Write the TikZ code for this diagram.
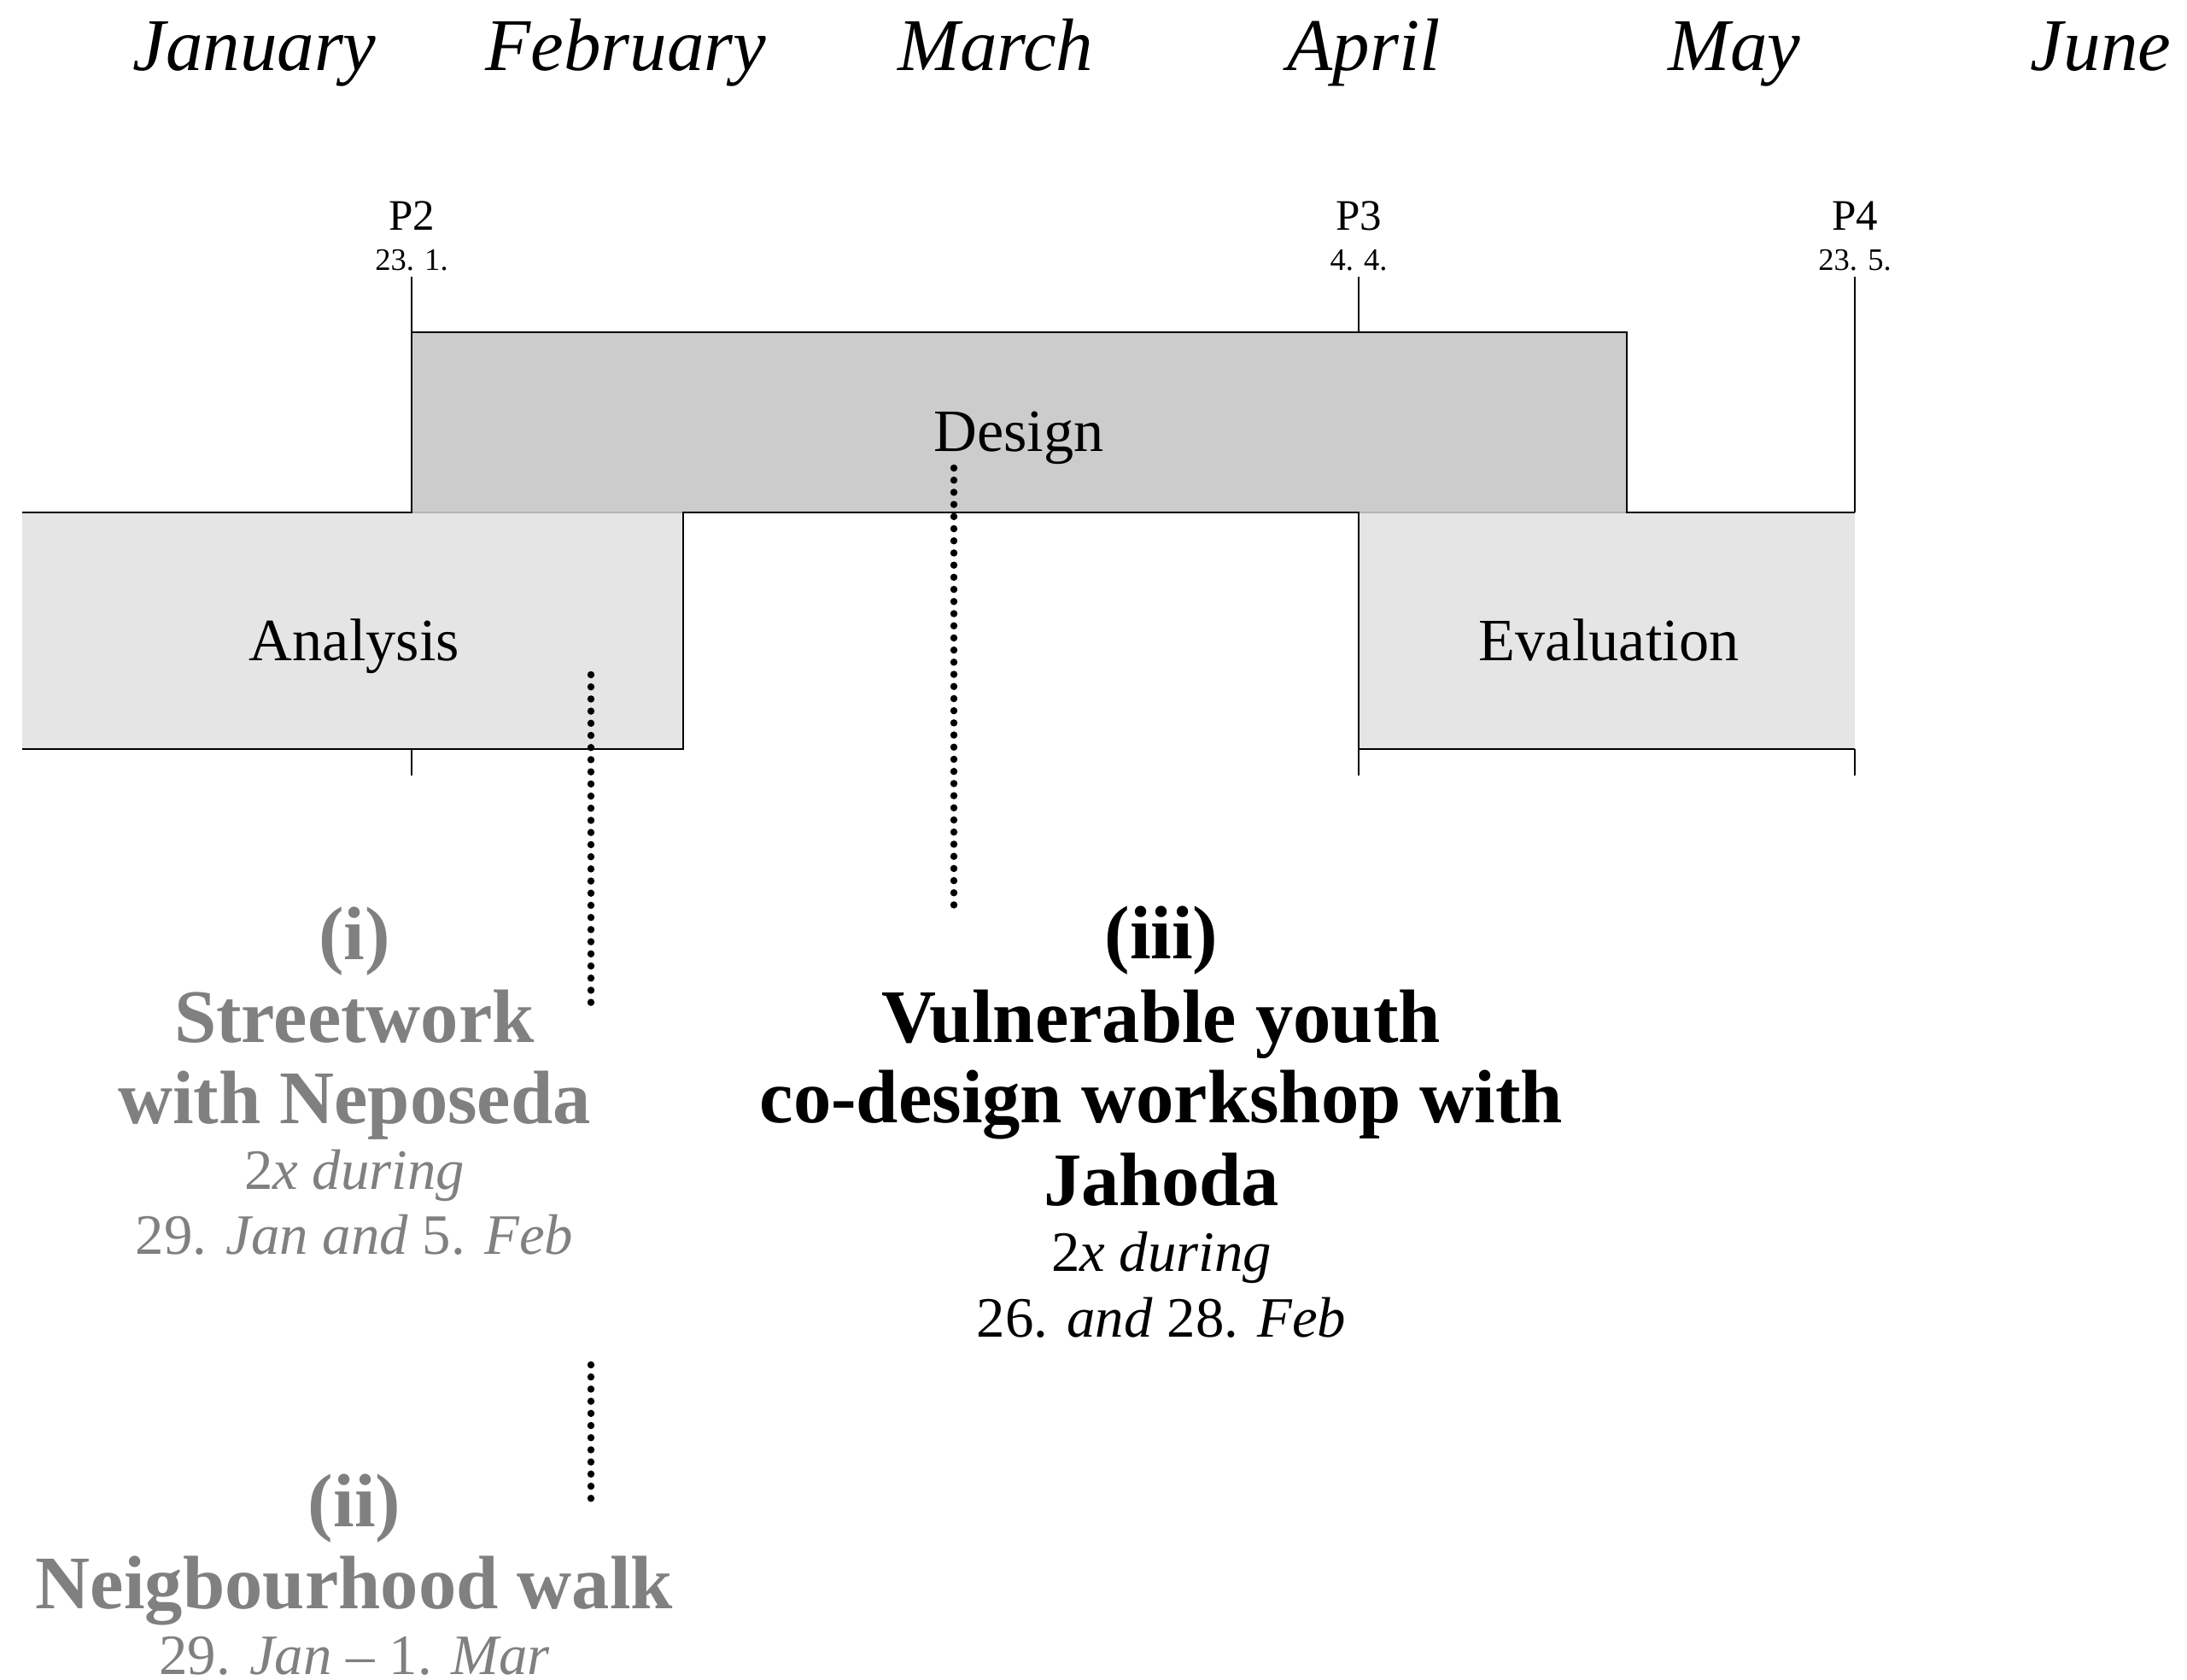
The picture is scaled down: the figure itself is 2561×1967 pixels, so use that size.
\documentclass[tikz,border=0pt]{standalone}
\usepackage{fontspec}
\setmainfont{Liberation Serif}
\definecolor{designfill}{HTML}{CCCCCC}
\definecolor{phasefill}{HTML}{E5E5E5}
\definecolor{muted}{HTML}{808080}
\definecolor{seam}{HTML}{B3B3B3}
\begin{document}
\begin{tikzpicture}[x=0.01cm,y=-0.01cm,
  every node/.style={inner sep=0pt, anchor=base},
  month/.style={font=\fontsize{24.75pt}{30pt}\selectfont\itshape},
  phase/.style={font=\fontsize{20pt}{24pt}\selectfont},
  plab/.style={font=\fontsize{14.5pt}{17pt}\selectfont},
  pdate/.style={font=\fontsize{10.4pt}{12pt}\selectfont},
  title/.style={font=\fontsize{25.2pt}{30pt}\selectfont\bfseries},
  sub/.style={font=\fontsize{19pt}{24pt}\selectfont\itshape},
  faded/.style={text=muted},
  outline/.style={line width=0.65pt, draw=black},
  tickline/.style={line width=0.55pt, draw=black},
  seamline/.style={line width=0.4pt, draw=seam},
  dotline/.style={line width=2.4pt, line cap=round, dash pattern=on 0pt off 0.142cm}
]
\useasboundingbox (0,0) rectangle (2561,1967);

% month labels
\node[month] (jan) at (298,83) {January};
\node[month] (feb) at (733,83) {February};
\node[month] (mar) at (1166,83) {March};
\node[month] (apr) at (1597,83) {April};
\node[month] (may) at (2031,83) {May};
\node[month] (jun) at (2460,83) {June};

% phase fills
\fill[designfill] (482,389) rectangle (1905,600);
\fill[phasefill] (26,600) rectangle (800,877);
\fill[phasefill] (1591,600) rectangle (2172,877);
\draw[seamline] (482,600) -- (800,600);
\draw[seamline] (1591,600) -- (1905,600);

% outlines
\draw[outline] (26,600) -- (482,600) -- (482,389) -- (1905,389) -- (1905,600) -- (2172,600);
\draw[outline] (26,877) -- (800,877) -- (800,600) -- (1591,600) -- (1591,877) -- (2172,877);

% milestone ticks
\node[plab] (p2) at (482,270) {P2};
\node[pdate] (p2d) at (482,317) {23. 1.};
\node[plab] (p3) at (1591,270) {P3};
\node[pdate] (p3d) at (1591,317) {4. 4.};
\node[plab] (p4) at (2172,270) {P4};
\node[pdate] (p4d) at (2172,317) {23. 5.};
\coordinate (t2a) at (482,324);
\coordinate (t2b) at (482,389);
\coordinate (t2c) at (482,877);
\coordinate (t2d) at (482,908);
\coordinate (t3a) at (1591,324);
\coordinate (t3b) at (1591,389);
\coordinate (t3c) at (1591,877);
\coordinate (t3d) at (1591,908);
\coordinate (t4a) at (2172,324);
\coordinate (t4b) at (2172,600);
\coordinate (t4c) at (2172,877);
\coordinate (t4d) at (2172,908);
\draw[tickline] (t2a) -- (t2b);
\draw[tickline] (t2c) -- (t2d);
\draw[tickline] (t3a) -- (t3b);
\draw[tickline] (t3c) -- (t3d);
\draw[tickline] (t4a) -- (t4b);
\draw[tickline] (t4c) -- (t4d);

% phase labels
\node[phase] (design) at (1193,528) {Design};
\node[phase] (analysis) at (415,773) {Analysis};
\node[phase] (evaluation) at (1884,773) {Evaluation};

% dotted connectors
\coordinate (dA1) at (692,790);
\coordinate (dA2) at (692,1177);
\coordinate (dB1) at (692,1598);
\coordinate (dB2) at (692,1768);
\coordinate (dD1) at (1117,548);
\coordinate (dD2) at (1117,1073);
\draw[dotline] (dA1) -- (dA2);
\draw[dotline] (dB1) -- (dB2);
\draw[dotline] (dD1) -- (dD2);

% (i)
\node[title,faded] (i0) at (415,1123) {(i)};
\node[title,faded] (i1) at (415,1220) {Streetwork};
\node[title,faded] (i2) at (415,1315) {with Neposeda};
\node[sub,faded] (i3) at (415,1392) {\textup{2}x during};
\node[sub,faded] (i4) at (415,1468) {\textup{29.} Jan and \textup{5.} Feb};

% (ii)
\node[title,faded] (ii0) at (415,1787) {(ii)};
\node[title,faded] (ii1) at (415,1883) {Neigbourhood walk};
\node[sub,faded] (ii2) at (415,1960) {\textup{29.} Jan \textup{–} \textup{1.} Mar};

% (iii)
\node[title] (iii0) at (1360,1122) {(iii)};
\node[title] (iii1) at (1360,1220) {Vulnerable youth};
\node[title] (iii2) at (1360,1314) {co-design workshop with};
\node[title] (iii3) at (1360,1411) {Jahoda};
\node[sub] (iii4) at (1360,1488) {\textup{2}x during};
\node[sub] (iii5) at (1360,1565) {\textup{26.} and \textup{28.} Feb};
\end{tikzpicture}
\end{document}
